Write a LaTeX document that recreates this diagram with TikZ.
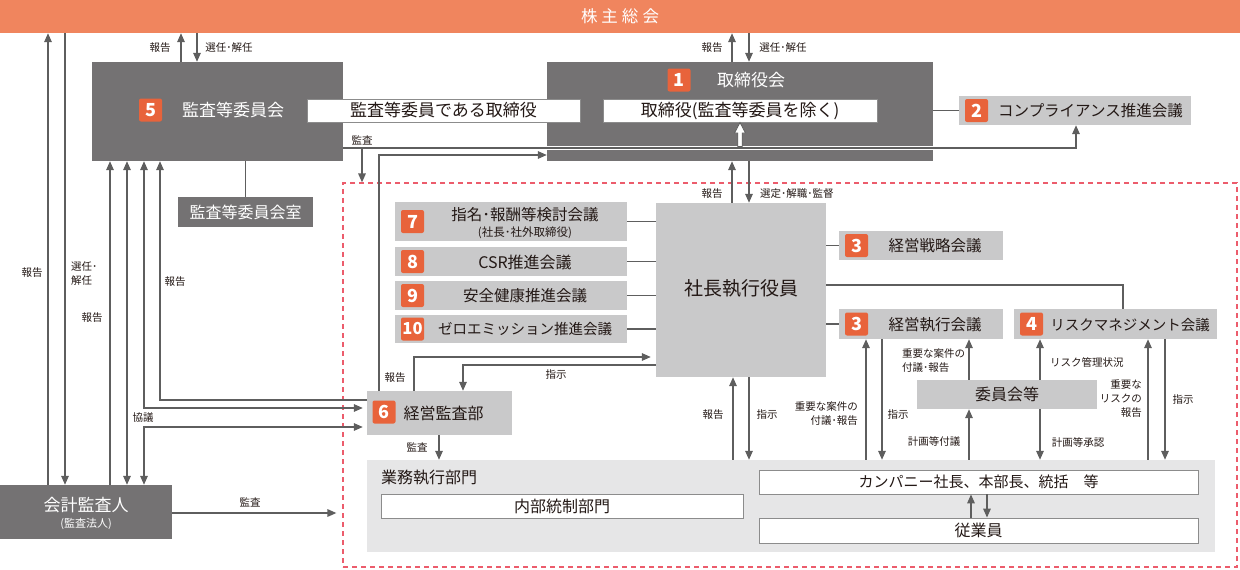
\documentclass[tikz,border=0pt]{standalone}
\usepackage{fontspec}
\setmainfont{Noto Sans CJK JP}
\usetikzlibrary{arrows.meta}
\definecolor{orbar}{HTML}{F0855E}
\definecolor{badgec}{HTML}{E8633B}
\definecolor{darkg}{HTML}{747273}
\definecolor{lightg}{HTML}{C9C9CA}
\definecolor{regiong}{HTML}{E6E6E7}
\definecolor{lnc}{HTML}{5E5E5E}
\definecolor{dashc}{HTML}{EC5C6C}
\definecolor{txc}{HTML}{231815}
\newcommand\fs[1]{\fontsize{#1}{#1}\selectfont}
\newcommand\rbox[6]{\node[#2, minimum width={(#5)-(#3)}, minimum height={(#6)-(#4)}] (#1) at ({((#3)+(#5))/2},{((#4)+(#6))/2}) {};}
\begin{document}
\begin{tikzpicture}[x=1pt,y=-1pt,
  dbox/.style={fill=darkg, inner sep=0},
  lbox/.style={fill=lightg, inner sep=0},
  wbox/.style={fill=white, draw=black!45, line width=0.8pt, inner sep=0},
  badge/.style={fill=badgec, rounded corners=2pt, minimum size=23pt, inner sep=0, text=white, font=\fs{18}\bfseries},
  ln/.style={draw=lnc, line width=1.5pt},
  ar/.style={ln, -{Triangle[length=9pt,width=7.5pt]}},
  dar/.style={ln, {Triangle[length=9pt,width=7.5pt]}-{Triangle[length=9pt,width=7.5pt]}},
  lab/.style={inner sep=0, text=txc, font=\fontsize{10.5}{14}\selectfont},
  wt/.style={inner sep=0, text=white, font=\fs{17}},
  bt/.style={inner sep=0, text=txc, font=\fs{16}}]
\useasboundingbox (0,0) rectangle (1240,570);

% frame and region
\rbox{frame}{draw=dashc, line width=1.2pt, dash pattern=on 5pt off 4pt, inner sep=0}{343}{183}{1237}{567}
\rbox{gyomu}{fill=regiong, inner sep=0}{367}{460}{1215}{552}
\node[bt, anchor=west] (gyomut) at (381,478) {業務執行部門};
\rbox{naibu}{wbox}{381}{494}{743}{518}
\node[bt] (naibut) at (naibu) {内部統制部門};
\rbox{comp}{wbox}{759}{470}{1198}{494}
\node[bt, font=\fs{15}] (compt) at (comp) {カンパニー社長、本部長、統括　等};
\rbox{jug}{wbox}{759}{518}{1198}{543}
\node[bt] (jugt) at (jug) {従業員};

% top bar
\rbox{kabu}{fill=orbar, inner sep=0}{0}{0}{1240}{33}
\node[wt, font=\fs{16.5}] (kabut) at (kabu) {株\hspace{4pt}主\hspace{4pt}総\hspace{4pt}会};

% audit committee
\rbox{kansa}{dbox}{92}{62}{343}{161}
\node[badge] (b5) at (150.5,110) {5};
\node[wt, anchor=west] (kansat) at (182,110) {監査等委員会};

% board
\rbox{tori}{dbox}{547}{62}{933}{161}
\node[badge] (b1) at (679,80) {1};
\node[wt, anchor=west] (torit) at (717,80) {取締役会};

\rbox{wb1}{wbox}{307}{99}{580}{122}
\node[bt, font=\fs{17}] (wb1t) at (wb1) {監査等委員である取締役};
\rbox{wb2}{wbox}{603}{99}{877}{122}
\node[bt, font=\fs{17}] (wb2t) at (wb2) {取締役(監査等委員を除く)};

% compliance
\rbox{c2}{lbox}{959}{96}{1191}{125}
\node[badge] (b2) at (976.5,110.5) {2};
\node[bt, font=\fs{15.5}, anchor=west] (c2t) at (998,110.5) {コンプライアンス推進会議};
\draw[ln] (tori.east |- c2.west) -- (c2.west);

% audit committee office
\rbox{shitsu}{dbox}{178}{197}{313}{227}
\node[wt, font=\fs{16}] (shitsut) at (shitsu) {監査等委員会室};
\draw[ln] (kansa.south -| shitsu.north) -- (shitsu.north);

% accounting auditor
\rbox{kaikei}{dbox}{0}{485}{172}{539}
\node[wt] (kaikeit) at (86,505) {会計監査人};
\node[wt, font=\fs{11}] (kaikeis) at (86,524) {(監査法人)};

% president
\rbox{shacho}{lbox}{656}{203}{826}{377}
\node[bt, font=\fs{19}] (shachot) at (741,288) {社長執行役員};

% committees 7-10
\rbox{c7}{lbox}{395}{202}{627}{241}
\node[badge] (b7) at (412.5,221.5) {7};
\node[bt, font=\fs{15.5}] (c7t) at (525,215) {指名･報酬等検討会議};
\node[bt, font=\fs{11.5}] (c7s) at (525,233) {(社長･社外取締役)};
\rbox{c8}{lbox}{395}{247}{627}{276}
\node[badge] (b8) at (412.5,261.5) {8};
\node[bt] (c8t) at (525,262) {CSR推進会議};
\rbox{c9}{lbox}{395}{281}{627}{310}
\node[badge] (b9) at (412.5,295.5) {9};
\node[bt, font=\fs{15.5}] (c9t) at (525,296) {安全健康推進会議};
\rbox{c10}{lbox}{395}{315}{627}{343}
\node[badge, font=\fs{16.5}\bfseries] (b10) at (412.5,329) {10};
\node[bt, font=\fs{14.5}] (c10t) at (525,329.5) {ゼロエミッション推進会議};
\foreach \n in {c7,c8,c9,c10} { \draw[ln] (\n.east) -- (\n.east -| shacho.west); }

% 3, 3, 4
\rbox{c3a}{lbox}{839}{231}{1003}{260}
\node[badge] (b3a) at (856.5,245.5) {3};
\node[bt, font=\fs{15.5}] (c3at) at (935,246) {経営戦略会議};
\rbox{c3b}{lbox}{839}{309}{1003}{339}
\node[badge] (b3b) at (856.5,324) {3};
\node[bt, font=\fs{15.5}] (c3bt) at (935,325) {経営執行会議};
\rbox{c4}{lbox}{1014}{309}{1217}{339}
\node[badge] (b4) at (1031.5,324) {4};
\node[bt, font=\fs{14.5}] (c4t) at (1130,325) {リスクマネジメント会議};
\rbox{iin}{lbox}{917}{380}{1097}{409}
\node[bt] (iint) at (iin) {委員会等};

% internal audit
\rbox{c6}{lbox}{367}{391}{512}{435}
\node[badge] (b6) at (384,412) {6};
\node[bt] (c6t) at (443.5,413) {経営監査部};

% ---- connectors ----
\draw[ar] (kansa.north -| 181,0) -- (kabu.south -| 181,0);
\draw[ar] (kabu.south -| 197,0) -- (kansa.north -| 197,0);
\draw[ar] (tori.north -| 732,0) -- (kabu.south -| 732,0);
\draw[ar] (kabu.south -| 749,0) -- (tori.north -| 749,0);
\node[lab] at (160,48) {報告};
\node[lab] at (229,48) {選任･解任};
\node[lab] at (712,48) {報告};
\node[lab] at (783,48) {選任･解任};

\draw[ar] (kaikei.north -| 48,0) -- (kabu.south -| 48,0);
\draw[ar] (kabu.south -| 65,0) -- (kaikei.north -| 65,0);
\draw[ar] (kaikei.north -| 110,0) -- (kansa.south -| 110,0);
\draw[dar] (kansa.south -| 127,0) -- (kaikei.north -| 127,0);
\draw[dar] (kansa.south -| 144,0) |- ([xshift=-4pt]c6.west |- 0,408);
\draw[dar] (kaikei.north -| 144,0) |- ([xshift=-4pt]c6.west |- 0,427);
\draw[ar] (c6.west |- 0,400) -| (kansa.south -| 160,0);
\draw[ar] (kaikei.east |- 0,513) -- ([xshift=-6pt]frame.west |- 0,513);
\node[lab] at (32,273) {報告};
\node[lab, anchor=west, align=left] at (71,274) {選任･\\解任};
\node[lab] at (92,318) {報告};
\node[lab] at (175,282) {報告};
\node[lab] at (143,418) {協議};
\node[lab] at (250,502) {監査};

% audit line across the board
\draw[white, line width=4.5pt] (tori.west |- 0,148) -- (tori.east |- 0,148);
\draw[ar] (kansa.east |- 0,148) -| (c2.south -| 1076,0);
\coordinate (ja) at (362,148);
\draw[ar] (ja) -- (frame.north -| ja);
\node[lab] at (362,140) {監査};
\draw[lnc, line width=0.8pt, fill=white] (740,122.5) -- (745.5,133) -- (742.2,133) -- (742.2,146.5) -- (737.8,146.5) -- (737.8,133) -- (734.5,133) -- cycle;

\draw[ar] (c6.north -| 379,0) |- (tori.west |- 0,155);
\draw[ar] (c6.north -| 414,0) |- ([xshift=-5pt]shacho.west |- 0,357);
\draw[ar] (shacho.west |- 0,365) -| (c6.north -| 463,0);
\draw[ar] (c6.south -| 439,0) -- (gyomu.north -| 439,0);
\node[lab] at (395,378) {報告};
\node[lab] at (556,375) {指示};
\node[lab] at (417,447) {監査};

\draw[ar] (shacho.north -| 732,0) -- (tori.south -| 732,0);
\draw[ar] (tori.south -| 749,0) -- (shacho.north -| 749,0);
\node[lab] at (712,194) {報告};
\node[lab, anchor=west] at (760,194) {選定･解職･監督};

\draw[ln] (shacho.east |- c3a.west) -- (c3a.west);
\draw[ln] (shacho.east |- c3b.west) -- (c3b.west);
\draw[ln] (shacho.east |- 0,285) -| (c4.north -| 1123,0);

\draw[ar] (gyomu.north -| 733,0) -- (shacho.south -| 733,0);
\draw[ar] (shacho.south -| 749,0) -- (gyomu.north -| 749,0);
\node[lab] at (713,415) {報告};
\node[lab] at (767,415) {指示};

\draw[ar] (gyomu.north -| 866,0) -- (c3b.south -| 866,0);
\draw[ar] (c3b.south -| 882,0) -- (gyomu.north -| 882,0);
\node[lab, anchor=east, align=right] at (858,414) {重要な案件の\\付議･報告};
\node[lab] at (898,415) {指示};

\draw[ar] (iin.north -| 969,0) -- (c3b.south -| 969,0);
\draw[ar] (gyomu.north -| 969,0) -- (iin.south -| 969,0);
\node[lab, anchor=west, align=left] at (902,361) {重要な案件の\\付議･報告};
\node[lab] at (934,442) {計画等付議};

\draw[ar] (iin.north -| 1040,0) -- (c4.south -| 1040,0);
\draw[ar] (iin.south -| 1040,0) -- (gyomu.north -| 1040,0);
\node[lab, anchor=west] at (1050,362) {リスク管理状況};
\node[lab] at (1078,442) {計画等承認};

\draw[ar] (gyomu.north -| 1148,0) -- (c4.south -| 1148,0);
\draw[ar] (c4.south -| 1165,0) -- (gyomu.north -| 1165,0);
\node[lab, anchor=east, align=right] at (1142,399) {重要な\\リスクの\\報告};
\node[lab] at (1183,400) {指示};

\draw[ar] (jug.north -| 971,0) -- (comp.south -| 971,0);
\draw[ar] (comp.south -| 987,0) -- (jug.north -| 987,0);
\end{tikzpicture}
\end{document}
